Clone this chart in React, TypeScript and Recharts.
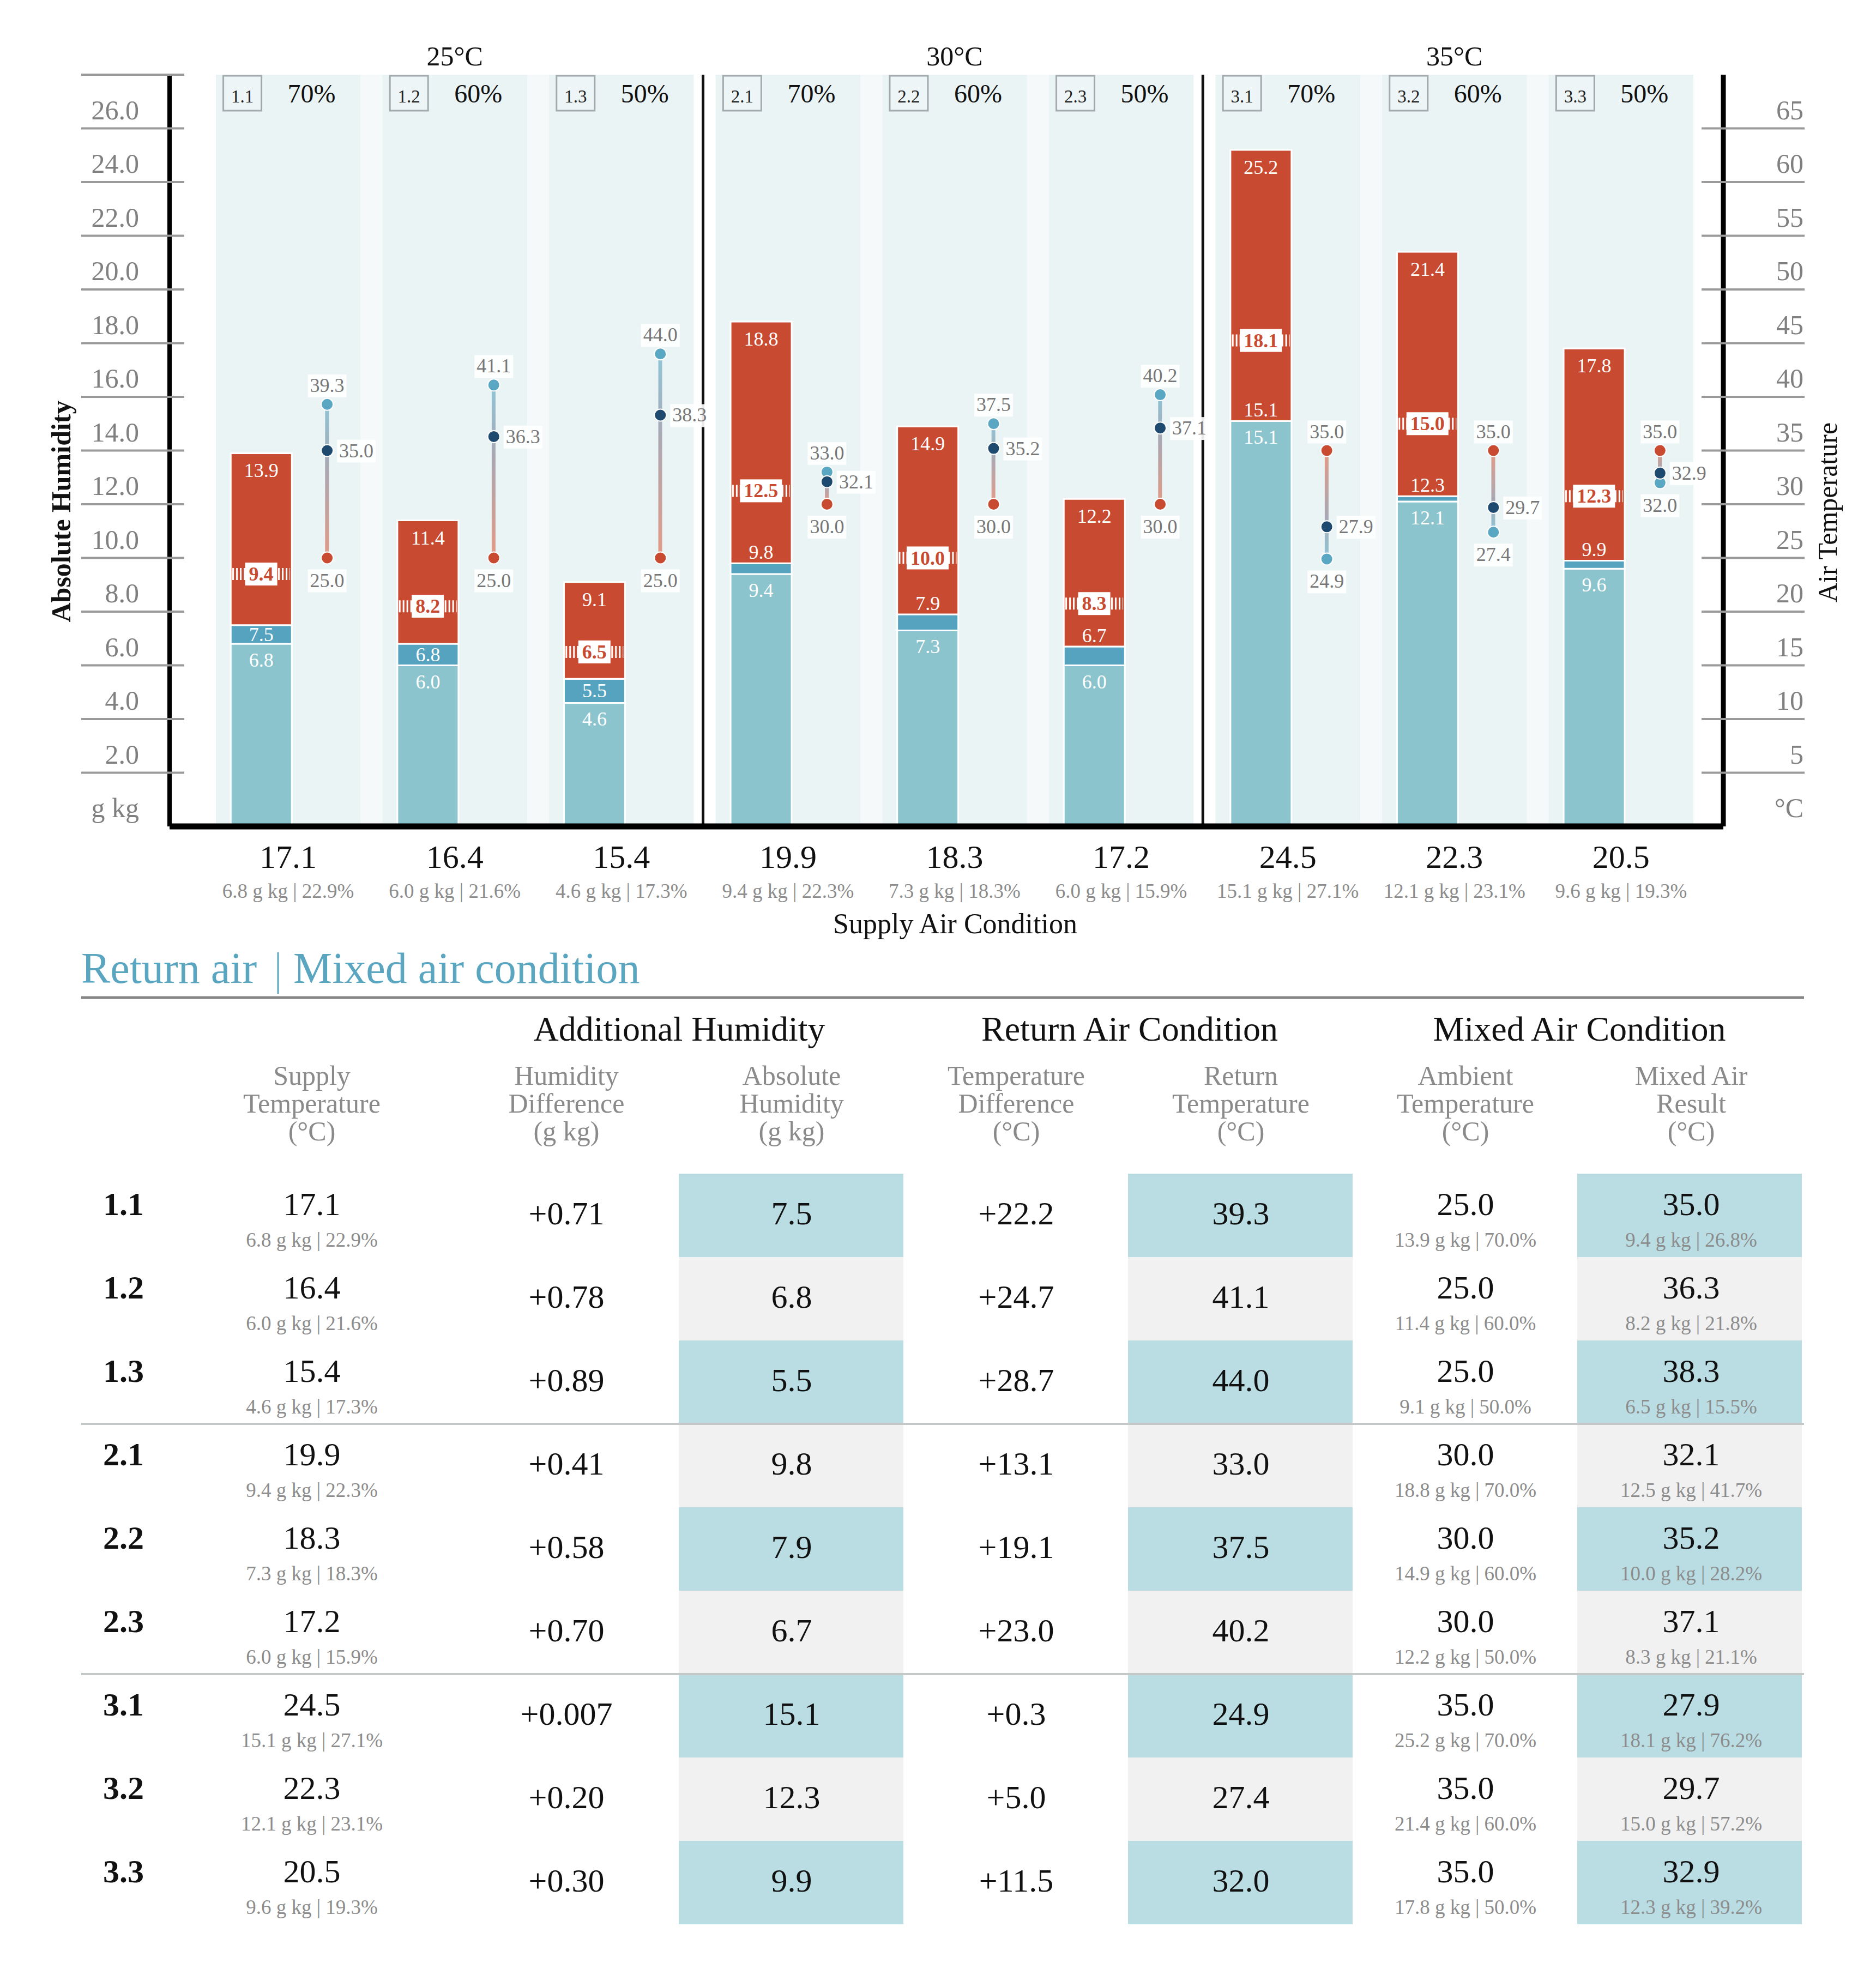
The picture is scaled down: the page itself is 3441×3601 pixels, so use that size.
import {
  ComposedChart,
  Bar,
  Scatter,
  XAxis,
  YAxis,
  ReferenceArea,
  ReferenceLine,
  LabelList,
  Cell,
} from 'recharts';

// ---- data ----
const caseIds = ['1.1', '1.2', '1.3', '2.1', '2.2', '2.3', '3.1', '3.2', '3.3'];
const groupTitles = ['25°C', '30°C', '35°C'];
const ambientTemp = [25.0, 25.0, 25.0, 30.0, 30.0, 30.0, 35.0, 35.0, 35.0];
const ambientRH = [70, 60, 50, 70, 60, 50, 70, 60, 50];
const ambientHum = [13.9, 11.4, 9.1, 18.8, 14.9, 12.2, 25.2, 21.4, 17.8];
const supplyTemp = [17.1, 16.4, 15.4, 19.9, 18.3, 17.2, 24.5, 22.3, 20.5];
const supplyHum = [6.8, 6.0, 4.6, 9.4, 7.3, 6.0, 15.1, 12.1, 9.6];
const supplyRH = [22.9, 21.6, 17.3, 22.3, 18.3, 15.9, 27.1, 23.1, 19.3];
const humidityDiff = [0.71, 0.78, 0.89, 0.41, 0.58, 0.7, 0.007, 0.2, 0.3];
const absHum = [7.5, 6.8, 5.5, 9.8, 7.9, 6.7, 15.1, 12.3, 9.9];
const tempDiff = [22.2, 24.7, 28.7, 13.1, 19.1, 23.0, 0.3, 5.0, 11.5];
const returnTemp = [39.3, 41.1, 44.0, 33.0, 37.5, 40.2, 24.9, 27.4, 32.0];
const mixedTemp = [35.0, 36.3, 38.3, 32.1, 35.2, 37.1, 27.9, 29.7, 32.9];
const mixedHum = [9.4, 8.2, 6.5, 12.5, 10.0, 8.3, 18.1, 15.0, 12.3];
const mixedRH = [26.8, 21.8, 15.5, 41.7, 28.2, 21.1, 76.2, 57.2, 39.2];

const humTicks = [0, 2, 4, 6, 8, 10, 12, 14, 16, 18, 20, 22, 24, 26, 28];
const tempTicks = [0, 5, 10, 15, 20, 25, 30, 35, 40, 45, 50, 55, 60, 65];
const catTicks = [0, 1, 2, 3, 4, 5, 6, 7, 8];
const dividers = [2.49, 5.49];

// ---- look ----
const W = 3441;
const CHART_H = 1730;
const SERIF = '"Liberation Serif", "Times New Roman", serif';
const RED = '#c84b31';
const TEAL = '#8cc4ce';
const BLUE = '#55a3bf';
const NAVY = '#1f4a70';
const DOT_BLUE = '#5aa7c3';
const BAND = '#ebf4f5';
const GAP = '#f5f9fa';
const GREY_TXT = '#808080';
const X_DOMAIN: [number, number] = [-0.712, 8.614];
const BAR_W = 112;
const BAND_HALF = 0.434;

const rows = caseIds.map((id, i) => ({
  id,
  pos: i,
  barX: i - 0.162,
  dumbX: i + 0.234,
  supply: supplyHum[i],
  added: absHum[i] - supplyHum[i],
  ambientPart: ambientHum[i] - absHum[i],
  mixHum: mixedHum[i],
  ret: returnTemp[i],
  mix: mixedTemp[i],
  amb: ambientTemp[i],
}));

const f1 = (v: number) => v.toFixed(1);

function GroupTitle({ viewBox, text }: any) {
  const cx = viewBox.x + viewBox.width / 2;
  return (
    <text x={cx} y={viewBox.y - 17} textAnchor="middle" fontSize={50} fill="#111">
      {text}
    </text>
  );
}

function BandHead({ viewBox, id, rh }: any) {
  const cx = viewBox.x + viewBox.width / 2;
  const top = viewBox.y;
  return (
    <g>
      <rect x={cx - 119} y={top + 2} width={70} height={64} fill="#eef5f6" stroke="#a2aaad" strokeWidth={3} />
      <text x={cx - 84} y={top + 51} textAnchor="middle" fontSize={33} fill="#222">{id}</text>
      <text x={cx + 43} y={top + 51} textAnchor="middle" fontSize={48} fill="#111">{rh}%</text>
    </g>
  );
}

function LeftTick({ x, y, payload }: any) {
  const v = Number(payload.value);
  return (
    <g>
      {v > 0 && <line x1={x - 162} x2={x + 27} y1={y} y2={y} stroke="#9a9a9a" strokeWidth={4} />}
      {v < 28 && (
        <text x={x - 56} y={y - 17} textAnchor="end" fontSize={50} fill={GREY_TXT}>
          {v === 0 ? 'g kg' : v.toFixed(1)}
        </text>
      )}
    </g>
  );
}

function RightTick({ x, y, payload }: any) {
  const v = Number(payload.value);
  return (
    <g>
      {v > 0 && <line x1={x - 40} x2={x + 149} y1={y} y2={y} stroke="#9a9a9a" strokeWidth={4} />}
      <text x={x + 147} y={y - 17} textAnchor="end" fontSize={50} fill={GREY_TXT}>
        {v === 0 ? '°C' : String(v)}
      </text>
    </g>
  );
}

function CatTick({ x, y, payload }: any) {
  const i = Math.round(Number(payload.value));
  return (
    <g>
      <text x={x} y={y + 76} textAnchor="middle" fontSize={60} fill="#111">{f1(supplyTemp[i])}</text>
      <text x={x} y={y + 131} textAnchor="middle" fontSize={37} fill="#8c8c8c">
        {`${f1(supplyHum[i])} g kg | ${f1(supplyRH[i])}%`}
      </text>
    </g>
  );
}

const barText = (x: number, y: number, s: string) => (
  <text x={x} y={y} textAnchor="middle" fontSize={36} fill="#fff">{s}</text>
);

function SupplyLabel({ x, y, width, index }: any) {
  return barText(x + width / 2, y + 42, f1(supplyHum[index]));
}

function AddedLabel({ x, y, width, height, index }: any) {
  if (index > 2) return null;
  return barText(x + width / 2, y + height / 2 + 12, f1(absHum[index]));
}

function AmbientLabel({ x, y, width, height, index }: any) {
  return (
    <g>
      {barText(x + width / 2, y + 44, f1(ambientHum[index]))}
      {index > 2 && barText(x + width / 2, y + height - 8, f1(absHum[index]))}
    </g>
  );
}

function MixMarker({ cx, cy, payload }: any) {
  const s = f1(payload.mixHum);
  const w = (s.replace('.', '').length * 0.5 + 0.25) * 36 + 14;
  return (
    <g>
      <line x1={cx - BAR_W / 2 + 3} x2={cx + BAR_W / 2 - 3} y1={cy} y2={cy} stroke="#fff" strokeWidth={22} strokeDasharray="3 4" />
      <rect x={cx - w / 2} y={cy - 21} width={w} height={42} fill="#fff" />
      <text x={cx} y={cy + 12} textAnchor="middle" fontSize={36} fontWeight="bold" fill={RED}>{s}</text>
    </g>
  );
}

const makeDot = (key: 'ret' | 'mix' | 'amb', color: string) =>
  function Dot({ cx, cy, payload }: any) {
    const v = payload[key];
    const s = f1(v);
    const tw = (s.replace('.', '').length * 0.5 + 0.25) * 36;
    let tx = cx;
    let ty = cy + 53;
    let anchor: 'middle' | 'start' = 'middle';
    if (key === 'mix') {
      tx = cx + 22;
      ty = cy + 12;
      anchor = 'start';
    } else if (v === Math.max(payload.ret, payload.amb)) {
      ty = cy - 23;
    }
    const bx = anchor === 'middle' ? tx - tw / 2 - 4 : tx - 4;
    return (
      <g>
        <circle cx={cx} cy={cy} r={11} fill={color} stroke="#fff" strokeWidth={2} />
        <rect x={bx} y={ty - 32} width={tw + 8} height={42} fill="#fff" fillOpacity={0.9} />
        <text x={tx} y={ty} textAnchor={anchor} fontSize={36} fill="#777">{s}</text>
      </g>
    );
  };

const RetDot = makeDot('ret', DOT_BLUE);
const MixDot = makeDot('mix', NAVY);
const AmbDot = makeDot('amb', RED);

function HumidityChart() {
  return (
    <ComposedChart width={W} height={CHART_H} data={rows} margin={{ top: 137, right: 0, bottom: 14, left: 0 }}>
      <defs>
        <linearGradient id="lineDown" x1="0" y1="0" x2="0" y2="1">
          <stop offset="0%" stopColor="#8ec6d7" />
          <stop offset="40%" stopColor="#a9a8b4" />
          <stop offset="100%" stopColor="#e49a85" />
        </linearGradient>
        <linearGradient id="lineUp" x1="0" y1="0" x2="0" y2="1">
          <stop offset="0%" stopColor="#e49a85" />
          <stop offset="60%" stopColor="#a9a8b4" />
          <stop offset="100%" stopColor="#8ec6d7" />
        </linearGradient>
      </defs>

      <XAxis
        xAxisId="cat"
        dataKey="pos"
        type="number"
        domain={X_DOMAIN}
        allowDataOverflow
        ticks={catTicks}
        interval={0}
        tick={(p: any) => <CatTick {...p} />}
        tickLine={false}
        tickSize={0}
        tickMargin={0}
        height={200}
        axisLine={{ stroke: '#000', strokeWidth: 11 }}
        label={() => (
          <text x={1752} y={1712} textAnchor="middle" fontSize={52} fill="#111">Supply Air Condition</text>
        )}
      />
      <XAxis xAxisId="bar" dataKey="barX" type="number" domain={X_DOMAIN} allowDataOverflow hide height={0} />
      <XAxis xAxisId="dumb" dataKey="dumbX" type="number" domain={X_DOMAIN} allowDataOverflow hide height={0} />
      <YAxis
        yAxisId="left"
        type="number"
        domain={[0, 28]}
        allowDataOverflow
        ticks={humTicks}
        interval={0}
        width={311}
        tick={(p: any) => <LeftTick {...p} />}
        tickLine={false}
        tickSize={0}
        tickMargin={0}
        axisLine={{ stroke: '#000', strokeWidth: 8 }}
        label={() => (
          <text x={112} y={938} transform="rotate(-90, 112, 938)" textAnchor="middle" dominantBaseline="central" fontSize={50} fontWeight="bold" fill="#111">
            Absolute Humidity
          </text>
        )}
      />
      <YAxis
        yAxisId="right"
        orientation="right"
        type="number"
        domain={[0, 70]}
        allowDataOverflow
        ticks={tempTicks}
        interval={0}
        width={280}
        tick={(p: any) => <RightTick {...p} />}
        tickLine={false}
        tickSize={0}
        tickMargin={0}
        axisLine={{ stroke: '#000', strokeWidth: 9 }}
        label={() => (
          <text x={3352} y={940} transform="rotate(-90, 3352, 940)" textAnchor="middle" dominantBaseline="central" fontSize={50} fill="#111">
            Air Temperature
          </text>
        )}
      />

      {groupTitles.map((t, g) => (
        <ReferenceArea
          key={`grp-${t}`}
          xAxisId="cat"
          yAxisId="left"
          x1={g * 3 - BAND_HALF}
          x2={g * 3 + 2 + BAND_HALF}
          y1={0}
          y2={28}
          fill={GAP}
          fillOpacity={1}
          stroke="none"
          label={<GroupTitle text={t} />}
        />
      ))}
      {caseIds.map((id, i) => (
        <ReferenceArea
          key={`band-${id}`}
          xAxisId="cat"
          yAxisId="left"
          x1={i - BAND_HALF}
          x2={i + BAND_HALF}
          y1={0}
          y2={28}
          fill={BAND}
          fillOpacity={1}
          stroke="none"
          label={<BandHead id={id} rh={ambientRH[i]} />}
        />
      ))}
      {dividers.map((d) => (
        <ReferenceLine key={d} xAxisId="cat" yAxisId="left" x={d} stroke="#111" strokeWidth={5} />
      ))}

      <Bar xAxisId="bar" yAxisId="left" dataKey="supply" stackId="h" fill={TEAL} stroke="#fff" strokeWidth={3} barSize={BAR_W} isAnimationActive={false}>
        <LabelList content={(p: any) => <SupplyLabel {...p} />} />
      </Bar>
      <Bar xAxisId="bar" yAxisId="left" dataKey="added" stackId="h" fill={BLUE} stroke="#fff" strokeWidth={3} barSize={BAR_W} isAnimationActive={false}>
        <LabelList content={(p: any) => <AddedLabel {...p} />} />
      </Bar>
      <Bar xAxisId="bar" yAxisId="left" dataKey="ambientPart" stackId="h" fill={RED} stroke="#fff" strokeWidth={3} barSize={BAR_W} isAnimationActive={false}>
        <LabelList content={(p: any) => <AmbientLabel {...p} />} />
      </Bar>
      <Scatter xAxisId="bar" yAxisId="left" dataKey="mixHum" shape={(p: any) => <MixMarker {...p} />} isAnimationActive={false} />

      <Bar
        xAxisId="dumb"
        yAxisId="right"
        dataKey={(d: any) => [Math.min(d.ret, d.amb), Math.max(d.ret, d.amb)]}
        barSize={7}
        isAnimationActive={false}
      >
        {rows.map((d) => (
          <Cell key={d.id} fill={d.ret > d.amb ? 'url(#lineDown)' : 'url(#lineUp)'} />
        ))}
      </Bar>
      <Scatter xAxisId="dumb" yAxisId="right" dataKey="ret" shape={(p: any) => <RetDot {...p} />} isAnimationActive={false} />
      <Scatter xAxisId="dumb" yAxisId="right" dataKey="amb" shape={(p: any) => <AmbDot {...p} />} isAnimationActive={false} />
      <Scatter xAxisId="dumb" yAxisId="right" dataKey="mix" shape={(p: any) => <MixDot {...p} />} isAnimationActive={false} />
    </ComposedChart>
  );
}

// ---- table below the chart (y values relative to the table's own svg) ----
const colCenters = [572, 1039, 1452, 1864, 2276, 2688, 3102];
const subHeads = [
  ['Supply', 'Temperature', '(°C)'],
  ['Humidity', 'Difference', '(g kg)'],
  ['Absolute', 'Humidity', '(g kg)'],
  ['Temperature', 'Difference', '(°C)'],
  ['Return', 'Temperature', '(°C)'],
  ['Ambient', 'Temperature', '(°C)'],
  ['Mixed Air', 'Result', '(°C)'],
];
const groupHeads = [
  { text: 'Additional Humidity', x: 1246 },
  { text: 'Return Air Condition', x: 2072 },
  { text: 'Mixed Air Condition', x: 2897 },
];
const shadedCols = [1245, 2069, 2893];

function SummaryTable() {
  const off = 1740 - CHART_H;
  const rowTop = 413 + off;
  const rowH = 153;
  const fmtDiff = (v: number) => `+${v < 0.01 ? v.toFixed(3) : v.toFixed(2)}`;
  const main = (x: number, y: number, s: string, k: string) => (
    <text key={k} x={x} y={y} textAnchor="middle" fontSize={60} fill="#111">{s}</text>
  );
  const sub = (x: number, y: number, s: string, k: string) => (
    <text key={k} x={x} y={y} textAnchor="middle" fontSize={37} fill="#8c8c8c">{s}</text>
  );
  return (
    <svg width={W} height={3601 - CHART_H} style={{ display: 'block' }}>
      <text x={149} y={63 + off} fontSize={80} fill="#5aa5bf">Return air</text>
      <line x1={510} x2={510} y1={7 + off} y2={83 + off} stroke="#5aa5bf" strokeWidth={3} />
      <text x={538} y={63 + off} fontSize={80} fill="#5aa5bf">Mixed air condition</text>
      <line x1={149} x2={3309} y1={90 + off} y2={90 + off} stroke="#868686" strokeWidth={5} />

      {groupHeads.map((g) => (
        <text key={g.text} x={g.x} y={169 + off} textAnchor="middle" fontSize={64} fill="#111">{g.text}</text>
      ))}
      {subHeads.map((lines, c) =>
        lines.map((l, k) => (
          <text key={`${c}-${k}`} x={colCenters[c]} y={250 + off + k * 51} textAnchor="middle" fontSize={50} fill="#8a8a8a">{l}</text>
        ))
      )}

      {caseIds.map((id, r) => {
        const top = rowTop + r * rowH;
        const fill = r % 2 === 0 ? '#b9dde3' : '#f1f1f1';
        return (
          <g key={id}>
            {shadedCols.map((x) => (
              <rect key={x} x={x} y={top} width={412} height={rowH} fill={fill} />
            ))}
            <text x={189} y={top + 76} fontSize={60} fontWeight="bold" fill="#111">{id}</text>
            {main(colCenters[0], top + 76, f1(supplyTemp[r]), 'st')}
            {sub(colCenters[0], top + 134, `${f1(supplyHum[r])} g kg | ${f1(supplyRH[r])}%`, 'ss')}
            {main(colCenters[1], top + 93, fmtDiff(humidityDiff[r]), 'hd')}
            {main(colCenters[2], top + 93, f1(absHum[r]), 'ah')}
            {main(colCenters[3], top + 93, `+${f1(tempDiff[r])}`, 'td')}
            {main(colCenters[4], top + 93, f1(returnTemp[r]), 'rt')}
            {main(colCenters[5], top + 76, f1(ambientTemp[r]), 'at')}
            {sub(colCenters[5], top + 134, `${f1(ambientHum[r])} g kg | ${ambientRH[r].toFixed(1)}%`, 'as')}
            {main(colCenters[6], top + 76, f1(mixedTemp[r]), 'mt')}
            {sub(colCenters[6], top + 134, `${f1(mixedHum[r])} g kg | ${f1(mixedRH[r])}%`, 'ms')}
          </g>
        );
      })}
      {[3, 6].map((r) => (
        <line key={r} x1={149} x2={3309} y1={rowTop + r * rowH} y2={rowTop + r * rowH} stroke="#c5c8c8" strokeWidth={4} />
      ))}
    </svg>
  );
}

export default function App() {
  return (
    <div style={{ width: W, height: 3601, background: '#fff', fontFamily: SERIF, position: 'relative' }}>
      <style>{'body { margin: 0; }'}</style>
      <HumidityChart />
      <SummaryTable />
    </div>
  );
}
